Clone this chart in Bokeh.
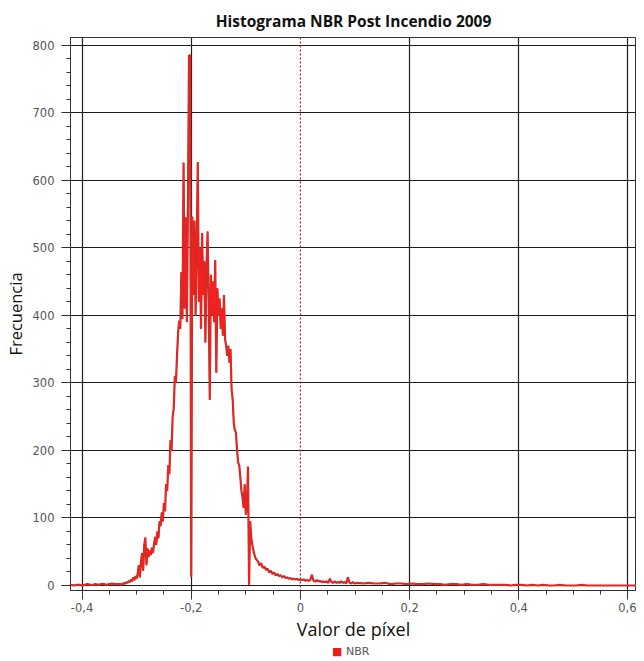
import numpy as np
from bokeh.plotting import figure
from bokeh.layouts import column
from bokeh.models import (Range1d, SingleIntervalTicker, FixedTicker, Span, Div,
                          CustomJSTickFormatter, ColumnDataSource)
from bokeh.embed import file_html
from bokeh.resources import INLINE

# ---------------- data ----------------
title_text = "Histograma NBR Post Incendio 2009"
x_label = "Valor de píxel"
y_label = "Frecuencia"
series_name = "NBR"

x_ticks = [-0.4, -0.2, 0.0, 0.2, 0.4, 0.6]
y_ticks = [0, 100, 200, 300, 400, 500, 600, 700, 800]

# left tail: bins from -0.420, step 0.005
left_start, left_step = -0.420, 0.005
left_freq = [1, 0, 1, 1, 0, 1, 2, 1, 1, 2, 1, 2, 2, 1, 2, 3, 2, 2]

# core: bins from -0.330, step 0.002
core_start, core_step = -0.330, 0.002
core_freq = [
    2, 1, 3, 2, 4, 3, 5, 4, 7, 5,
    9, 6, 12, 8, 14, 10, 18, 30, 12, 35,
    48, 22, 60, 71, 30, 55, 42, 52, 45, 56,
    48, 62, 72, 60, 80, 70, 95, 88, 108, 95,
    122, 110, 150, 140, 178, 165, 215, 200, 250, 262,
    310, 300, 340, 375, 392, 380, 464, 395, 626, 410,
    545, 390, 560, 785, 785, 13, 546, 430, 540, 400,
    500, 627, 420, 500, 380, 522, 430, 480, 360, 470,
    524, 420, 275, 460, 400, 450, 390, 482, 315, 440,
    400, 425, 380, 410, 370, 430, 365, 355, 340, 355,
    330, 350, 290, 275, 240, 230, 226, 200, 182, 178,
    160, 140, 130, 115, 150, 105, 120, 176, 1, 95,
    70, 60, 52, 45, 40, 38,
]

# right tail (near): bins from -0.078, step 0.003
near_start, near_step = -0.078, 0.003
near_freq = [
    36, 30, 33, 26, 28, 23, 25, 19, 22, 17,
    19, 15, 17, 14, 15, 12, 14, 11, 12, 10,
    11, 9, 10, 9, 10, 8, 9, 8, 9, 7,
    8, 7, 8, 16, 7, 6, 8, 6, 7, 5,
    6, 5, 6, 4, 10, 5, 4, 6, 4, 5,
    4, 6, 4, 5, 3, 12, 4, 3, 5, 3,
]

# right tail (far): bins from 0.105, step 0.01
far_start, far_step = 0.105, 0.01
far_freq = [
    4, 3, 4, 3, 3, 4, 2, 3, 3, 2,
    3, 2, 2, 3, 2, 2, 1, 2, 2, 1,
    2, 1, 1, 2, 1, 1, 1, 1, 0, 1,
    1, 0, 1, 0, 1, 0, 0, 1, 0, 0,
    0, 1, 0, 0, 0, 0, 0, 0, 0, 0,
    0, 0, 0, 0,
]

# ---------------- build series ----------------
def bins(start, step, freq):
    return start + step * np.arange(len(freq))

xs = np.concatenate([bins(left_start, left_step, left_freq),
                     bins(core_start, core_step, core_freq),
                     bins(near_start, near_step, near_freq),
                     bins(far_start, far_step, far_freq)])
ys = np.concatenate([left_freq, core_freq, near_freq, far_freq]).astype(float)
src = ColumnDataSource(dict(x=xs, y=ys))

# ---------------- figure ----------------
p = figure(width=636, height=643,
           x_range=Range1d(-0.4211, 0.6156), y_range=Range1d(-7.4, 811.4),
           output_backend="svg", toolbar_location=None,
           min_border_left=70, min_border_right=0, min_border_top=37,
           min_border_bottom=52)

p.title.text = title_text
p.title.align = "center"
p.title.text_font = "Open Sans"
p.title.text_font_size = "15.5px"
p.title.text_font_style = "bold"
p.title.text_color = "#111111"
p.title.standoff = 12

p.background_fill_color = "white"
p.border_fill_color = "white"
p.outline_line_color = "#333333"
p.outline_line_width = 1

# axes
p.xaxis.ticker = SingleIntervalTicker(interval=0.2, num_minor_ticks=4)
p.yaxis.ticker = SingleIntervalTicker(interval=100, num_minor_ticks=5)
p.xaxis.formatter = CustomJSTickFormatter(code="""
    var t = Math.round(tick * 10) / 10;
    if (Math.abs(t) < 1e-9) { return '0'; }
    return t.toFixed(1).replace('.', ',');
""")
for ax in (p.xaxis[0], p.yaxis[0]):
    ax.axis_line_color = "#333333"
    ax.major_tick_line_color = "#333333"
    ax.minor_tick_line_color = "#333333"
    ax.major_tick_out = 9
    ax.major_tick_in = 0
    ax.minor_tick_out = 4
    ax.minor_tick_in = 0
    ax.major_label_text_font = "DejaVu Sans"
    ax.major_label_text_font_size = "11.5px"
    ax.major_label_text_color = "#555555"
    ax.axis_label_text_font = "Open Sans"
    ax.axis_label_text_font_style = "normal"
    ax.axis_label_text_color = "#111111"

p.xaxis.axis_label = x_label
p.yaxis.axis_label = y_label
p.xaxis.axis_label_text_font_size = "18px"
p.yaxis.axis_label_text_font_size = "16.5px"
p.xaxis.major_label_standoff = 3
p.yaxis.major_label_standoff = 7
p.xaxis.axis_label_standoff = 2
p.yaxis.axis_label_standoff = 3

# grid
p.xgrid.ticker = FixedTicker(ticks=[t for t in x_ticks if t != 0.0])
p.ygrid.ticker = FixedTicker(ticks=y_ticks)
for g in (p.xgrid[0], p.ygrid[0]):
    g.grid_line_color = "#1e1e1e"
    g.grid_line_width = 1.2
    g.grid_line_alpha = 1.0

# zero marker
p.add_layout(Span(location=0, dimension="height", line_color="#9e2a22",
                  line_dash="2 2", line_width=1.2))

# histogram line
p.line("x", "y", source=src, line_color="#b3362c", line_width=2.2)
p.line("x", "y", source=src, line_color="#ff1e1e", line_width=1.0)

# legend row under the chart
legend_html = (
    '<div style="padding-left:332px;font-family:\'DejaVu Sans\';font-size:11px;'
    'line-height:10px;color:#555555;white-space:nowrap;">'
    '<span style="color:#e3201b;">&#9632;</span> ' + series_name + '</div>'
)
legend_div = Div(text=legend_html, width=636, height=10, margin=0)

layout = column(p, legend_div, spacing=0)
open("out.html", "w").write(file_html(layout, INLINE))
